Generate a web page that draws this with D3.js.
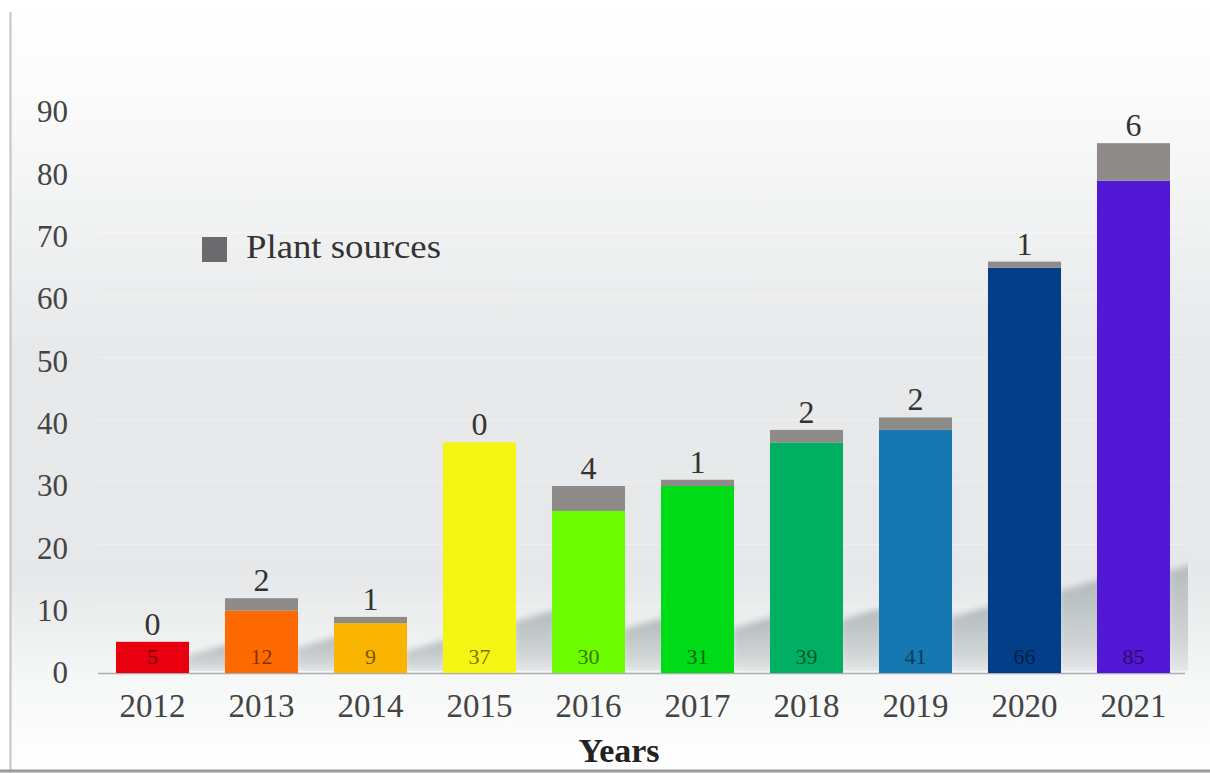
<!DOCTYPE html>
<html>
<head>
<meta charset="utf-8">
<script src="https://cdn.jsdelivr.net/npm/d3@7"></script>
<style>
  body { margin: 0; background: #fff; }
  svg text { font-family: "Liberation Serif", "DejaVu Serif", serif; }
</style>
</head>
<body>
<svg id="chart" width="1210" height="773"></svg>
<script>
// data
var years = ["2012", "2013", "2014", "2015", "2016", "2017", "2018", "2019", "2020", "2021"];
var totals = [5, 12, 9, 37, 30, 31, 39, 41, 66, 85];
var plantSources = [0, 2, 1, 0, 4, 1, 2, 2, 1, 6];
var barColors = ["#e8000f", "#ff6a00", "#f8b400", "#f4f512", "#6cfc00", "#00db18", "#00af62", "#1678b0", "#033f88", "#5218d6"];
var yTicks = [0, 10, 20, 30, 40, 50, 60, 70, 80, 90];

const W = 1210, H = 773;
const plotLeft = 98, plotRight = 1188, plotTop = 112, plotBottom = 673;

var svg = d3.select("#chart");
var defs = svg.append("defs");

// background gradient
var bg = defs.append("linearGradient")
  .attr("id", "bg")
  .attr("x1", 0).attr("y1", 0).attr("x2", 0).attr("y2", 1);
bg.append("stop").attr("offset", "0%").attr("stop-color", "#ffffff");
bg.append("stop").attr("offset", "12%").attr("stop-color", "#fbfbfb");
bg.append("stop").attr("offset", "45%").attr("stop-color", "#e7e9ea");
bg.append("stop").attr("offset", "75%").attr("stop-color", "#e6e8e9");
bg.append("stop").attr("offset", "88%").attr("stop-color", "#f6f7f7");
bg.append("stop").attr("offset", "100%").attr("stop-color", "#ffffff");

var shade = defs.append("linearGradient")
  .attr("id", "shade")
  .attr("x1", 0).attr("y1", 0).attr("x2", 0).attr("y2", 1);
shade.append("stop").attr("offset", "0%").attr("stop-color", "#b3babb");
shade.append("stop").attr("offset", "70%").attr("stop-color", "#cfd4d5");
shade.append("stop").attr("offset", "100%").attr("stop-color", "#e6e8e9");

defs.append("filter").attr("id", "blur")
  .attr("x", "-30%").attr("y", "-30%").attr("width", "160%").attr("height", "160%")
  .append("feGaussianBlur").attr("stdDeviation", 3);

defs.append("clipPath").attr("id", "floor")
  .append("rect")
  .attr("x", plotLeft).attr("y", 0)
  .attr("width", plotRight - plotLeft).attr("height", plotBottom - 2);

svg.append("rect")
  .attr("x", 10).attr("y", 0)
  .attr("width", W - 10).attr("height", H)
  .attr("fill", "url(#bg)");

// frame lines
svg.append("line")
  .attr("x1", 10.5).attr("x2", 10.5).attr("y1", 12).attr("y2", H)
  .attr("stroke", "#c4c4c4").attr("stroke-width", 2);
svg.append("line")
  .attr("x1", 0).attr("x2", W).attr("y1", H - 2).attr("y2", H - 2)
  .attr("stroke", "#9a9a9a").attr("stroke-width", 3);

var x = d3.scaleBand()
  .domain(years)
  .range([plotLeft, plotRight])
  .paddingInner(0.33)
  .paddingOuter(0.165);

var y = d3.scaleLinear()
  .domain([0, 90])
  .range([plotBottom, plotTop]);

// faint grid
svg.append("g")
  .selectAll("line")
  .data(yTicks.slice(1))
  .enter()
  .append("line")
  .attr("x1", plotLeft).attr("x2", plotRight - 5)
  .attr("y1", function(d) { return y(d) - 4; })
  .attr("y2", function(d) { return y(d) - 4; })
  .attr("stroke", "#ffffff")
  .attr("stroke-opacity", 0.4);

// y axis labels
var yAxis = svg.append("g")
  .attr("transform", "translate(" + 68 + ",0)")
  .call(d3.axisLeft(y).tickValues(yTicks).tickSize(0).tickPadding(0));
yAxis.select(".domain").remove();
yAxis.selectAll("text")
  .attr("font-size", 31)
  .attr("fill", "#444")
  .attr("font-family", "Liberation Serif, serif");

var rows = years.map(function(yr, i) {
  return { year: yr, total: totals[i], plant: plantSources[i], other: totals[i] - plantSources[i], color: barColors[i] };
});

// cast shadows to the right of each bar
var gap = x.step() - x.bandwidth();
svg.append("g")
  .attr("clip-path", "url(#floor)")
  .selectAll("path")
  .data(rows)
  .enter()
  .append("path")
  .attr("d", function(d) {
    var xr = x(d.year) + x.bandwidth();
    var s = 0.17 * (y(0) - y(d.total)) + 12;
    return d3.line()([[xr - 2, plotBottom], [xr - 2, plotBottom - s], [xr + gap + 4, plotBottom - s - 12], [xr + gap + 4, plotBottom]]);
  })
  .attr("fill", "url(#shade)")
  .attr("filter", "url(#blur)");

// baseline
svg.append("line")
  .attr("x1", plotLeft).attr("x2", plotRight - 3)
  .attr("y1", plotBottom + 0.5).attr("y2", plotBottom + 0.5)
  .attr("stroke", "#a9adb0").attr("stroke-width", 1.5);

var bars = svg.append("g")
  .selectAll("g.bar")
  .data(rows)
  .enter()
  .append("g")
  .attr("class", "bar");

bars.append("rect")
  .attr("x", function(d) { return x(d.year); })
  .attr("width", x.bandwidth())
  .attr("y", function(d) { return y(d.other); })
  .attr("height", function(d) { return y(0) - y(d.other); })
  .attr("fill", function(d) { return d.color; });

bars.append("rect")
  .attr("x", function(d) { return x(d.year); })
  .attr("width", x.bandwidth())
  .attr("y", function(d) { return y(d.total); })
  .attr("height", function(d) { return y(d.other) - y(d.total); })
  .attr("fill", "#8f8b88");

// plant source counts on top
bars.append("text")
  .attr("x", function(d) { return x(d.year) + x.bandwidth() / 2; })
  .attr("y", function(d) { return y(d.total) - 7; })
  .attr("text-anchor", "middle")
  .attr("font-size", 32)
  .attr("fill", "#333")
  .text(function(d) { return d.plant; });

// totals inside the bars
bars.append("text")
  .attr("x", function(d) { return x(d.year) + x.bandwidth() / 2; })
  .attr("y", plotBottom - 9)
  .attr("text-anchor", "middle")
  .attr("font-size", 22)
  .attr("fill", function(d) { return d3.color(d.color).darker(2); })
  .text(function(d) { return d.total; });

// x axis labels
var xAxis = svg.append("g")
  .attr("transform", "translate(0," + (plotBottom + 21) + ")")
  .call(d3.axisBottom(x).tickSize(0).tickPadding(0));
xAxis.select(".domain").remove();
xAxis.selectAll("text")
  .attr("font-size", 33)
  .attr("fill", "#444")
  .attr("font-family", "Liberation Serif, serif");

svg.append("text")
  .attr("x", 619).attr("y", 762)
  .attr("text-anchor", "middle")
  .attr("font-size", 34)
  .attr("font-weight", "bold")
  .attr("fill", "#222")
  .text("Years");

// legend
var legend = svg.append("g").attr("transform", "translate(202,237)");
legend.append("rect")
  .attr("width", 25).attr("height", 25)
  .attr("fill", "#6b6b6d");
legend.append("text")
  .attr("x", 44).attr("y", 21)
  .attr("font-size", 33)
  .attr("fill", "#333")
  .attr("textLength", 195)
  .attr("lengthAdjust", "spacingAndGlyphs")
  .text("Plant sources");
</script>
</body>
</html>
